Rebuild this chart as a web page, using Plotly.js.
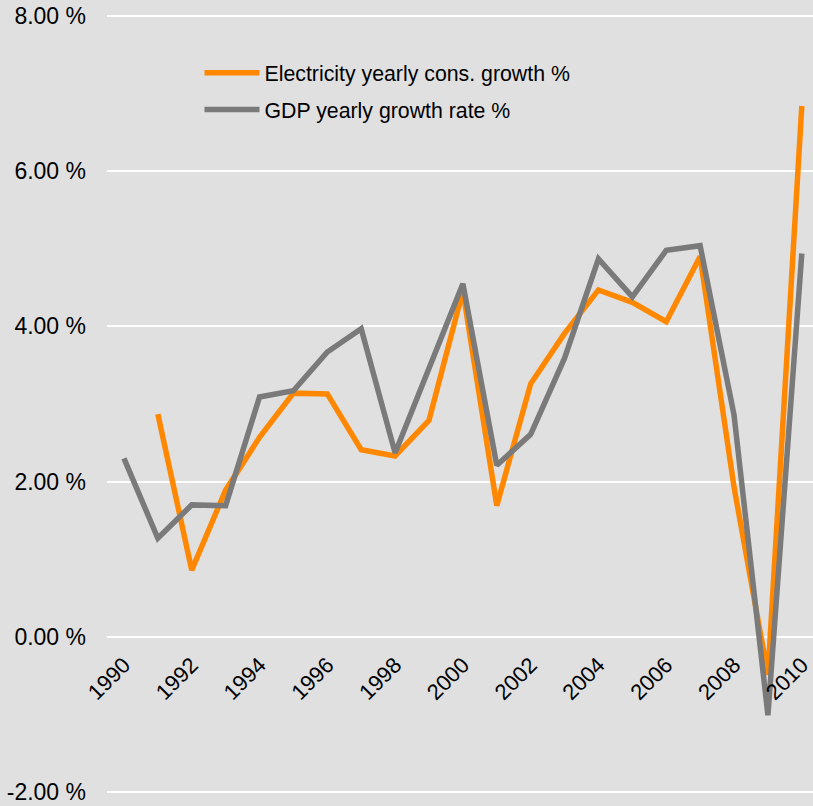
<!DOCTYPE html>
<html>
<head>
<meta charset="utf-8">
<script src="https://cdn.plot.ly/plotly-3.0.1.min.js"></script>
<style>
  html, body { margin: 0; padding: 0; background: #e0e0e0; }
  #graph { width: 813px; height: 806px; }
</style>
</head>
<body>
<div id="graph"></div>
<script>
const years = [1990, 1991, 1992, 1993, 1994, 1995, 1996, 1997, 1998, 1999, 2000,
               2001, 2002, 2003, 2004, 2005, 2006, 2007, 2008, 2009, 2010];

// electricity consumption growth (no value for 1990)
const elecGrowth = [null, 2.87, 0.86, 1.89, 2.57, 3.14, 3.13, 2.41, 2.33, 2.79, 4.46,
                    1.69, 3.26, 3.91, 4.47, 4.31, 4.06, 4.90, 1.93, -0.49, 6.84];

const gdpGrowth = [2.30, 1.27, 1.70, 1.69, 3.09, 3.17, 3.67, 3.97, 2.37, 3.44, 4.55,
                   2.21, 2.61, 3.59, 4.87, 4.38, 4.98, 5.04, 2.86, -1.01, 4.94];

const yearTicks = [1990, 1992, 1994, 1996, 1998, 2000, 2002, 2004, 2006, 2008, 2010];
const pctTicks = [-2, 0, 2, 4, 6, 8];
const pctLabels = ['-2.00 %', '0.00 %', '2.00 %', '4.00 %', '6.00 %', '8.00 %'];

const yMin = -2.18, yMax = 8.206;

const traces = [
    {
        x: years,
        y: elecGrowth,
        mode: 'lines',
        type: 'scatter',
        name: 'Electricity yearly cons. growth %',
        legendgroup: 'elec',
        line: { color: '#ff8800', width: 5.5 }
    },
    {
        x: years,
        y: gdpGrowth,
        mode: 'lines',
        type: 'scatter',
        name: 'GDP yearly growth rate %',
        legendgroup: 'gdp',
        line: { color: '#7a7a7a', width: 5.5 }
    }
];

const layout = {
    width: 813,
    height: 806,
    paper_bgcolor: '#e0e0e0',
    plot_bgcolor: '#e0e0e0',
    margin: { l: 107, r: 0, t: 0, b: 0 },
    font: { family: 'Liberation Sans, Arial, sans-serif', size: 21, color: '#000' },
    showlegend: true,
    legend: {
        x: 0.131,
        y: 0.935,
        xanchor: 'left',
        yanchor: 'top',
        bgcolor: 'rgba(0,0,0,0)',
        traceorder: 'grouped',
        tracegroupgap: 6,
        itemwidth: 55,
        font: { size: 21.3 }
    },
    xaxis: {
        range: [1989.5, 2010.33],
        tickmode: 'array',
        tickvals: yearTicks,
        ticktext: yearTicks.map(String),
        tickangle: -45,
        showgrid: false,
        zeroline: false,
        showline: false,
        anchor: 'free',
        position: (0 - yMin) / (yMax - yMin),
        ticks: '',
        ticklabelstandoff: 10,
        ticklabeloverflow: 'allow',
        tickfont: { size: 22 }
    },
    yaxis: {
        range: [yMin, yMax],
        tickmode: 'array',
        tickvals: pctTicks,
        ticktext: pctLabels,
        showgrid: true,
        gridcolor: '#ffffff',
        gridwidth: 2,
        zeroline: false,
        showline: false,
        ticks: '',
        ticklabelstandoff: 20,
        tickfont: { size: 23 }
    }
};

Plotly.newPlot('graph', traces, layout, { displayModeBar: false });
</script>
</body>
</html>
